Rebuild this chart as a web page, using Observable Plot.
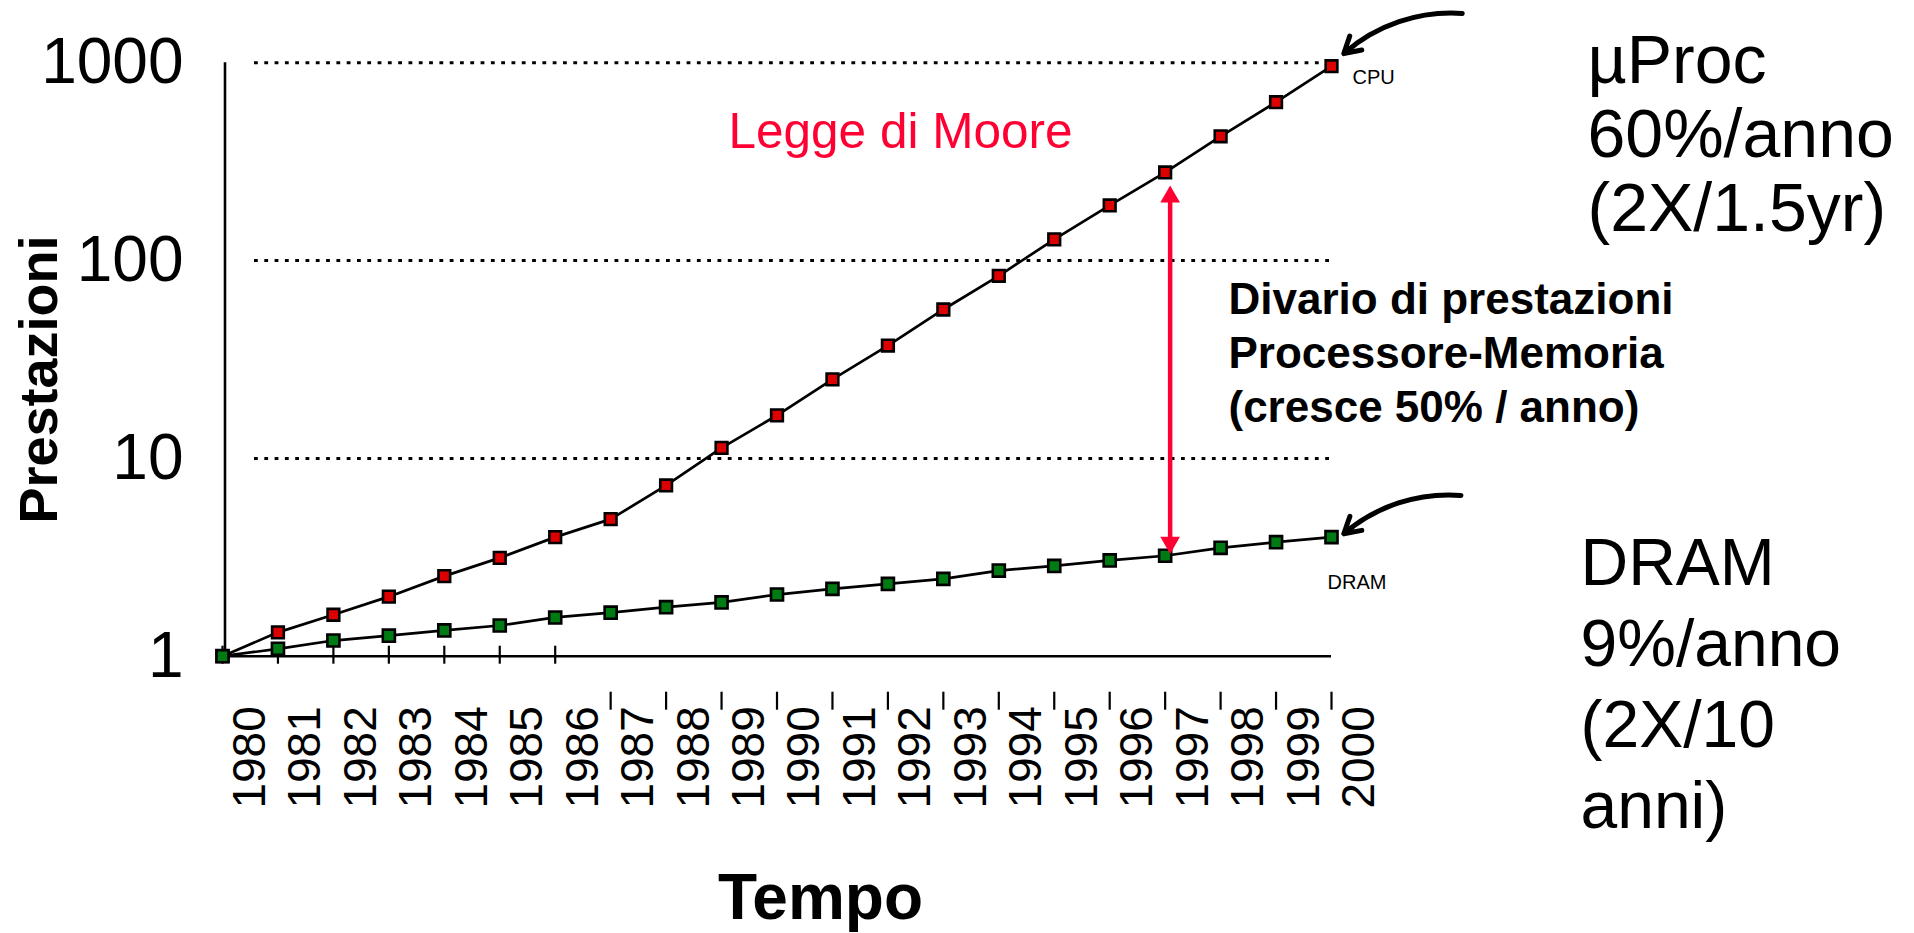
<!DOCTYPE html>
<html>
<head>
<meta charset="utf-8">
<script src="https://cdn.jsdelivr.net/npm/d3@7"></script>
<script src="https://cdn.jsdelivr.net/npm/@observablehq/plot@0.6"></script>
<style>
  html, body { margin: 0; padding: 0; background: #fff; }
  svg { display: block; }
</style>
</head>
<body>
<div id="chart"></div>
<script>
// ---- data ----
const years = [1980, 1981, 1982, 1983, 1984, 1985, 1986, 1987, 1988, 1989, 1990,
               1991, 1992, 1993, 1994, 1995, 1996, 1997, 1998, 1999, 2000];
const cpuPerf = [1, 1.32, 1.62, 2.0, 2.54, 3.14, 4.0, 4.93, 7.3, 11.3, 16.5,
                 25.1, 37.2, 56.6, 83.8, 128, 190, 279, 425, 632, 961];
const dramPerf = [1, 1.09, 1.2, 1.27, 1.35, 1.43, 1.57, 1.66, 1.77, 1.87, 2.05,
                  2.19, 2.32, 2.46, 2.71, 2.86, 3.05, 3.22, 3.53, 3.77, 4.0];
const yTicks = [1, 10, 100, 1000];
const gridValues = [10, 100, 1000];
const axisTickYears = [1980, 1981, 1982, 1983, 1984, 1985, 1986];
const lowTickYears = [1987, 1988, 1989, 1990, 1991, 1992, 1993, 1994, 1995, 1996, 1997, 1998, 1999, 2000];
const gapYear = 1997;
const callouts = [
  {x1: 2002.357, y1: 1776, x2: 2000.222, y2: 1114},
  {x1: 2002.335, y1: 6.5, x2: 2000.222, y2: 4.16}
];
const yTitle = "Prestazioni";
const xTitle = "Tempo";
const mooreText = "Legge di Moore";
const gapLines = ["Divario di prestazioni", "Processore-Memoria", "(cresce 50% / anno)"];
const procLines = ["µProc", "60%/anno", "(2X/1.5yr)"];
const dramLines = ["DRAM", "9%/anno", "(2X/10", "anni)"];
const cpuLabel = "CPU";
const dramLabel = "DRAM";

// ---- derived tables ----
const rows = years.map((year, i) => ({year, cpu: cpuPerf[i], dram: dramPerf[i]}));
const gi = years.indexOf(gapYear);
const gap = [{year: gapYear, cpu: cpuPerf[gi], dram: dramPerf[gi]}];
const last = [rows[rows.length - 1]];

const RED = "#ff0033";
const CPU_FILL = "#dd0000";
const DRAM_FILL = "#007a12";

const chart = Plot.plot({
  width: 1914,
  height: 933,
  marginLeft: 222,
  marginRight: 583,
  marginTop: 62.3,
  marginBottom: 277.3,
  style: {fontFamily: "'Liberation Sans', Arial, sans-serif", background: "#fff", color: "#000"},
  x: {domain: [1980, 2000], axis: null},
  y: {type: "log", domain: [1, 1000]},
  marks: [
    // dotted grid lines
    Plot.ruleY(gridValues, {y: d => d, stroke: "#000", strokeWidth: 3, strokeDasharray: "3.8 6.5", insetLeft: 32, insetRight: 2}),
    // axis lines
    Plot.ruleX([1980], {x: d => d, dx: 2.5, stroke: "#000", strokeWidth: 2.6}),
    Plot.ruleY([1], {y: d => d, stroke: "#000", strokeWidth: 2.4, insetLeft: 2}),
    // ticks
    Plot.ruleX(axisTickYears, {x: d => d, y1: () => 1, y2: () => 1, insetTop: -10, insetBottom: -8, stroke: "#000", strokeWidth: 2.2}),
    Plot.ruleX(lowTickYears, {x: d => d, y1: () => 1, y2: () => 1, insetTop: 36, insetBottom: -54, stroke: "#000", strokeWidth: 2.2}),
    // y axis labels
    Plot.axisY(yTicks, {tickSize: 0, tickPadding: 39, fontSize: 64, tickFormat: d => String(d), label: null}),
    // x tick labels
    Plot.text(years, {x: d => d + 0.5, y: () => 1, text: d => String(d), rotate: -90, textAnchor: "end", lineAnchor: "middle", dy: 50, fontSize: 46}),
    // series
    Plot.line(rows, {x: "year", y: "cpu", stroke: "#000", strokeWidth: 2.7}),
    Plot.line(rows, {x: "year", y: "dram", stroke: "#000", strokeWidth: 2.7}),
    Plot.dot(rows, {x: "year", y: "cpu", symbol: "square", r: 6.6, fill: CPU_FILL, stroke: "#000", strokeWidth: 2.6}),
    Plot.dot(rows, {x: "year", y: "dram", symbol: "square", r: 6.8, fill: DRAM_FILL, stroke: "#000", strokeWidth: 2.6}),
    // gap arrow
    Plot.ruleX(gap, {x: "year", y1: "cpu", y2: "dram", dx: 5, insetTop: 24, insetBottom: 13, stroke: RED, strokeWidth: 4.5}),
    Plot.dot(gap, {x: "year", y: "cpu", dx: 5, dy: 24.3, symbol: "triangle", r: 7.3, fill: RED}),
    Plot.dot(gap, {x: "year", y: "dram", dx: 5, dy: -13.2, symbol: "triangle", r: 7.3, rotate: 180, fill: RED}),
    // callout arrows
    Plot.arrow(callouts, {x1: "x1", y1: "y1", x2: "x2", y2: "y2", bend: -22.5, stroke: "#000", strokeWidth: 5, headLength: 5.5}),
    // end labels
    Plot.text(last, {x: "year", y: "cpu", text: () => cpuLabel, textAnchor: "start", lineAnchor: "bottom", dx: 21, dy: 17.3, fontSize: 20}),
    Plot.text(last, {x: "year", y: "dram", text: () => dramLabel, textAnchor: "start", lineAnchor: "bottom", dx: -4, dy: 52.3, fontSize: 20}),
    // annotations
    Plot.text([mooreText], {frameAnchor: "top-left", textAnchor: "start", lineAnchor: "bottom", dx: 506, dy: 84.7, fontSize: 49.5, fill: RED}),
    Plot.text([gapLines.join("\n")], {frameAnchor: "top-left", textAnchor: "start", lineAnchor: "bottom", dx: 1006, dy: 358.7, fontSize: 44, fontWeight: "bold", lineHeight: 1.2273}),
    Plot.text([procLines.join("\n")], {frameAnchor: "top-left", textAnchor: "start", lineAnchor: "bottom", dx: 1365, dy: 167.7, fontSize: 68, lineHeight: 1.081}),
    Plot.text([dramLines.join("\n")], {frameAnchor: "top-left", textAnchor: "start", lineAnchor: "bottom", dx: 1358, dy: 764.7, fontSize: 66, lineHeight: 1.2227}),
    // titles
    Plot.text([yTitle], {frameAnchor: "left", rotate: -90, textAnchor: "middle", lineAnchor: "bottom", dx: -166, dy: 20, fontSize: 54, fontWeight: "bold"}),
    Plot.text([xTitle], {frameAnchor: "bottom", textAnchor: "middle", lineAnchor: "bottom", dx: 43.5, dy: 262.3, fontSize: 64, fontWeight: "bold"})
  ]
});
document.getElementById("chart").appendChild(chart);
</script>
</body>
</html>
